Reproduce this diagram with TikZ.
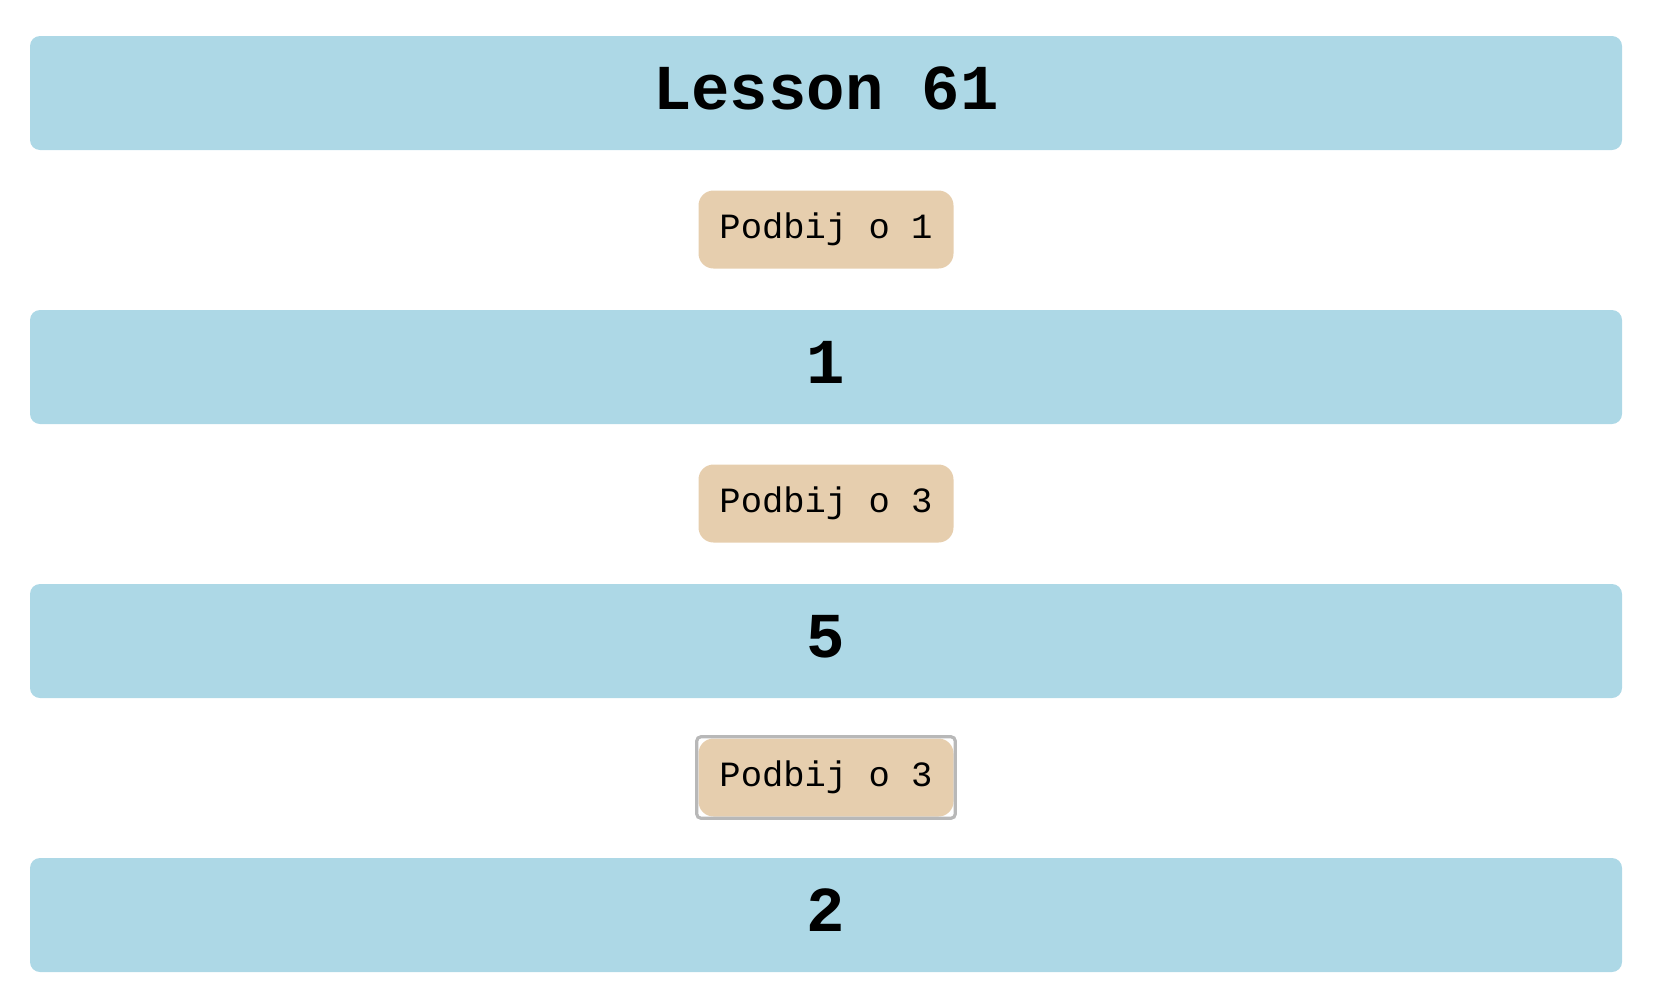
\documentclass[tikz,border=0pt]{standalone}
\usepackage{fontspec}
\setmonofont{Liberation Mono}
\definecolor{bandblue}{HTML}{ADD8E6}
\definecolor{tagtan}{HTML}{E6CEAE}
\definecolor{selgrey}{HTML}{B8B8B8}
\begin{document}
\begin{tikzpicture}[x=1pt,y=-1pt,
  band/.style={fill=bandblue, draw=none, rounded corners=10pt, minimum width=1592pt, minimum height=114pt, inner sep=0pt,
    text depth=9pt, font=\ttfamily\bfseries\fontsize{64}{70}\selectfont, text=black},
  tag/.style={fill=tagtan, draw=none, rounded corners=15pt, minimum width=255pt, minimum height=78pt, inner sep=0pt,
    font=\ttfamily\fontsize{35.5}{40}\selectfont, text=black},
  selbox/.style={draw=selgrey, line width=3.2pt, rounded corners=4pt}]
\useasboundingbox (0,0) rectangle (1668,1004);
\node[band] (b0) at (826,93) {Lesson 61};
\node[tag]  (t1) at (826,229.5) {Podbij o 1};
\node[band] (b1) at (826,367) {1};
\node[tag]  (t2) at (826,503.5) {Podbij o 3};
\node[band] (b2) at (826,641) {5};
\node[tag]  (t3) at (826,777.5) {Podbij o 3};
\draw[selbox] ([xshift=-1.5pt,yshift=1.5pt]t3.north west) rectangle ([xshift=1.5pt,yshift=-1.5pt]t3.south east);
\node[band] (b3) at (826,915) {2};
\end{tikzpicture}
\end{document}
